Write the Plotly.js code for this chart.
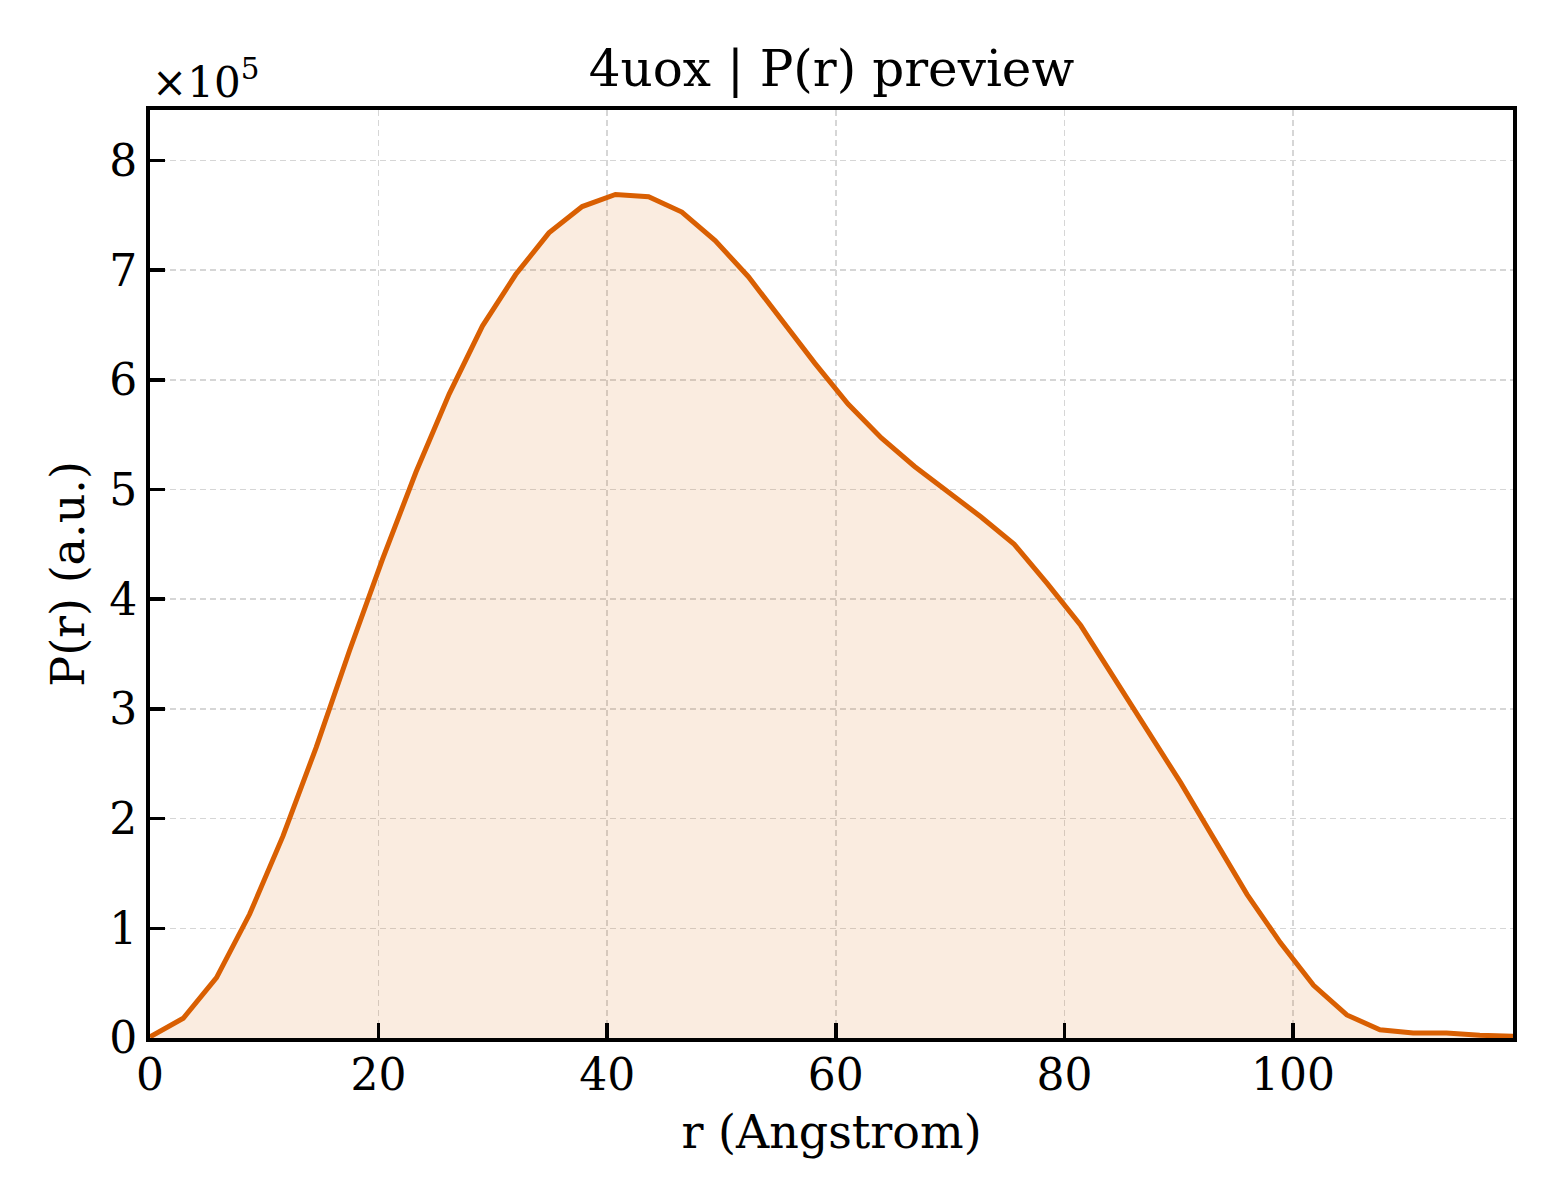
<!DOCTYPE html>
<html>
<head>
<meta charset="utf-8">
<script src="https://cdn.plot.ly/plotly-3.0.1.min.js"></script>
<style>
  body { margin: 0; background: #fff; }
  #chart { width: 1560px; height: 1200px; }
</style>
</head>
<body>
<div id="chart"></div>
<script>
const rValues = [
    0.00, 2.91, 5.82, 8.72, 11.63, 14.54, 17.45, 20.36, 23.27, 26.17,
    29.08, 31.99, 34.90, 37.81, 40.72, 43.62, 46.53, 49.44, 52.35, 55.26,
    58.17, 61.07, 63.98, 66.89, 69.80, 72.71, 75.61, 78.52, 81.43, 84.34,
    87.25, 90.15, 93.06, 95.97, 98.88, 101.79, 104.70, 107.60, 110.51, 113.42,
    116.33, 119.24
]
const prValues = [
    1000, 18000, 55000, 113000, 184000, 265000, 353000, 437000, 516000, 587000,
    649000, 696000, 734000, 758000, 769000, 767000, 753000, 727000, 694000, 654000,
    615000, 578000, 547000, 521000, 498000, 475000, 450000, 414000, 376000, 328000,
    279000, 233000, 182000, 131000, 87000, 48000, 21000, 7500, 4500, 4500,
    2500, 1500
]
const yTickVals = [0, 100000, 200000, 300000, 400000, 500000, 600000, 700000, 800000]
const yTickText = ["0", "1", "2", "3", "4", "5", "6", "7", "8"]
const xTickVals = [0, 20, 40, 60, 80, 100]

const lineColor = "#d95f02"
const serif = "DejaVu Serif, serif"

const trace = {
    x: rValues,
    y: prValues,
    type: "scatter",
    mode: "lines",
    fill: "tozeroy",
    fillcolor: "rgba(217,95,2,0.12)",
    line: {color: lineColor, width: 5},
    hoverinfo: "skip"
}

const axisCommon = {
    showline: true,
    linecolor: "#000",
    linewidth: 4,
    mirror: true,
    ticks: "inside",
    ticklen: 15,
    tickwidth: 3.5,
    tickcolor: "#000",
    showgrid: true,
    gridcolor: "#d6d6d6",
    gridwidth: 1.5,
    griddash: "6px,4px",
    zeroline: false,
    tickfont: {family: serif, size: 44, color: "#000"}
}

const layout = {
    width: 1560,
    height: 1200,
    paper_bgcolor: "#fff",
    plot_bgcolor: "#fff",
    margin: {l: 150, r: 47, t: 110, b: 162},
    showlegend: false,
    font: {family: serif, color: "#000"},
    title: {
        text: "4uox | P(r) preview",
        font: {family: serif, size: 50, color: "#000"},
        xref: "paper",
        x: 0.5,
        xanchor: "center",
        yref: "container",
        y: 1 - 68 / 1200,
        yanchor: "middle"
    },
    xaxis: Object.assign({}, axisCommon, {
        range: [0, 119.24],
        tickvals: xTickVals,
        ticklabelstandoff: -5,
        title: {text: "r (Angstrom)", font: {family: serif, size: 46, color: "#000"}, standoff: 18}
    }),
    yaxis: Object.assign({}, axisCommon, {
        range: [0, 846000],
        tickvals: yTickVals,
        ticktext: yTickText,
        title: {text: "P(r) (a.u.)", font: {family: serif, size: 46, color: "#000"}, standoff: 11}
    }),
    annotations: [{
        text: "×10<sup>5</sup>",
        xref: "paper", yref: "paper",
        x: 0, y: 1,
        xanchor: "left", yanchor: "bottom",
        xshift: 0, yshift: 1,
        showarrow: false,
        font: {family: serif, size: 42, color: "#000"}
    }]
}

Plotly.newPlot("chart", [trace], layout, {displayModeBar: false, staticPlot: true})
</script>
</body>
</html>
